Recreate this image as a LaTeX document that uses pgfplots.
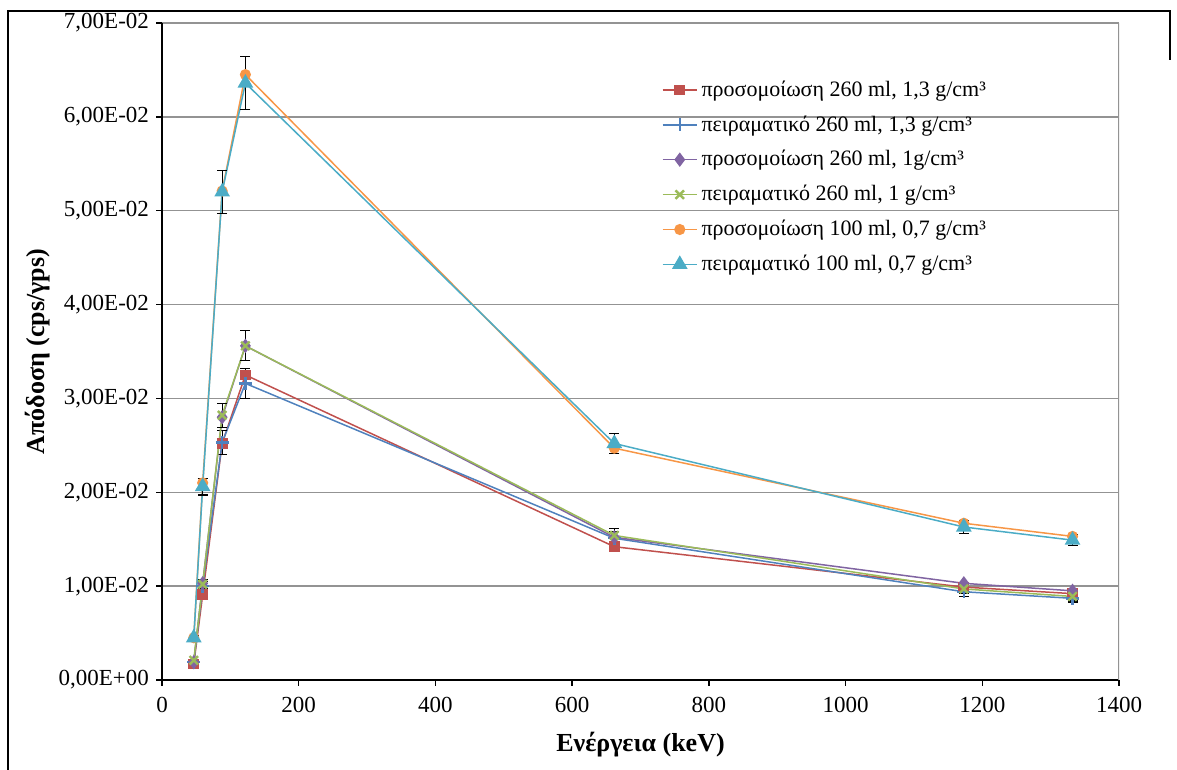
\documentclass[border=0pt]{standalone}
\usepackage{fontspec}
\setmainfont{Liberation Serif}
\usepackage{pgfplots}
\pgfplotsset{compat=1.18}
\definecolor{cRed}{RGB}{192,80,77}
\definecolor{cBlue}{RGB}{79,129,189}
\definecolor{cPurple}{RGB}{128,100,162}
\definecolor{cGreen}{RGB}{155,187,89}
\definecolor{cOrange}{RGB}{247,150,70}
\definecolor{cTeal}{RGB}{75,172,198}
\begin{document}
\begin{tikzpicture}
\useasboundingbox (0pt,0pt) rectangle (588.5pt,385pt);
\draw[black, line width=0.6pt] (4pt,0pt) -- (4pt,379.5pt) -- (585pt,379.5pt) -- (585pt,355pt);
\begin{axis}[
  at={(81pt,45pt)}, anchor=south west,
  scale only axis, width=478.5pt, height=328.5pt,
  xmin=0, xmax=1400, ymin=0, ymax=0.07,
  xtick={0,200,...,1400},
  ytick={0,0.01,0.02,0.03,0.04,0.05,0.06,0.07},
  yticklabels={{0,00E+00},{1,00E-02},{2,00E-02},{3,00E-02},{4,00E-02},{5,00E-02},{6,00E-02},{7,00E-02}},
  scaled y ticks=false,
  /pgf/number format/assume math mode=true,
  /pgf/number format/1000 sep={},
  axis lines*=left,
  axis line style={black, line width=1pt},
  tick align=outside, major tick length=3pt,
  tick style={black, line width=0.7pt},
  ymajorgrids, grid style={gray!85, line width=0.75pt},
  ticklabel style={font=\fontsize{11.5}{13}\selectfont},
  xticklabel style={yshift=-2pt},
  xlabel={\textbf{Ενέργεια (keV)}},
  ylabel={\textbf{Απόδοση (cps/γps)}},
  label style={font=\fontsize{13}{15}\selectfont},
  xlabel style={at={(axis description cs:0.5,-0.099)}, anchor=center},
  ylabel style={at={(axis description cs:-0.13,0.5)}, anchor=center, rotate=0},
  legend style={at={(0.522,0.919)}, anchor=north west, draw=none, fill=none,
    font=\fontsize{11}{12}\selectfont, row sep=4.2pt, inner sep=0pt,
    /tikz/every even column/.append style={column sep=1pt}},
  legend cell align=left,
  every axis plot/.append style={line width=0.75pt},
  error bars/error bar style={black, line width=0.6pt},
  error bars/error mark options={rotate=90, black, mark size=2.5pt, line width=0.6pt},
]
\draw[gray!85, line width=0.75pt] (rel axis cs:1,0) -- (rel axis cs:1,1);
\addplot[color=cRed, mark=square*, mark size=2.3pt, mark options={fill=cRed}]
 coordinates {(46.5,0.0017) (59.5,0.0091) (88,0.0252) (122,0.0325) (661.7,0.0142) (1173,0.0099) (1332,0.0092)};
\addlegendentry{προσομοίωση 260 ml, 1,3 g/cm³}
\addplot[color=cBlue, mark=+, mark size=3.2pt, mark options={line width=1.2pt},
  error bars/.cd, y dir=both, y explicit]
 coordinates {(46.5,0.0019) +- (0,0.0001) (59.5,0.0100) +- (0,0.0005) (88,0.0253) +- (0,0.0013) (122,0.0316) +- (0,0.0016) (661.7,0.0151) +- (0,0.0007) (1173,0.0094) +- (0,0.0005) (1332,0.0087) +- (0,0.0004)};
\addlegendentry{πειραματικό 260 ml, 1,3 g/cm³}
\addplot[color=cPurple, mark=diamond*, mark size=3pt, mark options={fill=cPurple}]
 coordinates {(46.5,0.0019) (59.5,0.0103) (88,0.0280) (122,0.0356) (661.7,0.0152) (1173,0.0103) (1332,0.0095)};
\addlegendentry{προσομοίωση 260 ml, 1g/cm³}
\addplot[color=cGreen, mark=x, mark size=3pt, mark options={line width=1.2pt},
  error bars/.cd, y dir=both, y explicit]
 coordinates {(46.5,0.0021) +- (0,0.0001) (59.5,0.0102) +- (0,0.0005) (88,0.0282) +- (0,0.0013) (122,0.0356) +- (0,0.0016) (661.7,0.0154) +- (0,0.0007) (1173,0.0097) +- (0,0.0005) (1332,0.0089) +- (0,0.0004)};
\addlegendentry{πειραματικό 260 ml, 1 g/cm³}
\addplot[color=cOrange, mark=*, mark size=2.4pt, mark options={fill=cOrange}]
 coordinates {(46.5,0.0045) (59.5,0.0210) (88,0.0521) (122,0.0645) (661.7,0.0247) (1173,0.0167) (1332,0.0153)};
\addlegendentry{προσομοίωση 100 ml, 0,7 g/cm³}
\addplot[color=cTeal, mark=triangle*, mark size=3.8pt, mark options={fill=cTeal},
  error bars/.cd, y dir=both, y explicit]
 coordinates {(46.5,0.0045) +- (0,0.0002) (59.5,0.0206) +- (0,0.0009) (88,0.0520) +- (0,0.0023) (122,0.0636) +- (0,0.0028) (661.7,0.0252) +- (0,0.0011) (1173,0.0163) +- (0,0.0007) (1332,0.0149) +- (0,0.0006)};
\addlegendentry{πειραματικό 100 ml, 0,7 g/cm³}
\end{axis}
\end{tikzpicture}
\end{document}
